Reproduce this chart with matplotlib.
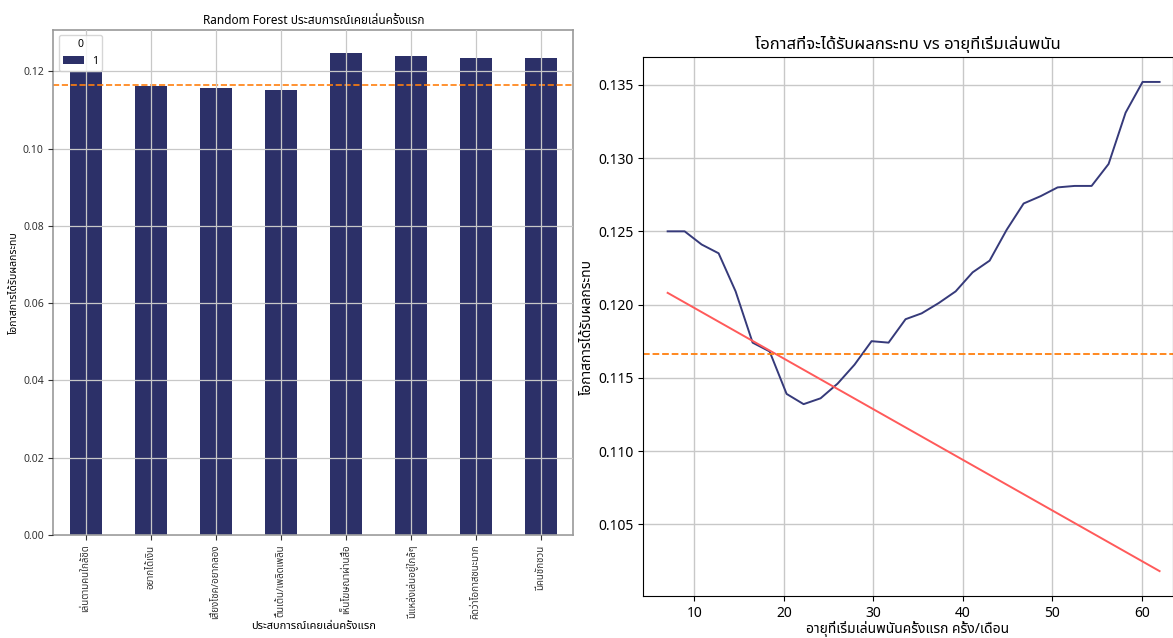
import matplotlib
matplotlib.use("Agg")
import matplotlib.pyplot as plt
import pandas as pd

plt.rcParams['font.family'] = ['Noto Sans Thai', 'Open Sans', 'DejaVu Sans']

# left: Random Forest, first-time experience
reasons = ["เล่นตามคนใกล้ชิด", "อยากได้เงิน", "เสี่ยงโชค/อยากลอง", "ตื่นเต้น/เพลิดเพลิน",
           "เห็นโฆษณาผ่านสื่อ", "มีแหล่งเล่นอยู่ใกล้ๆ", "คิดว่าโอกาสชนะมาก", "มีคนชักชวน"]
reason_prob = [0.1200, 0.1161, 0.1157, 0.1153, 0.1248, 0.1240, 0.1234, 0.1234]
baseline = 0.1166

# right: probability vs starting age
age = [7.0, 8.9, 10.8, 12.7, 14.6, 16.5, 18.4, 20.3, 22.2, 24.1,
       26.0, 27.9, 29.8, 31.7, 33.6, 35.4, 37.3, 39.2, 41.1, 43.0,
       44.9, 46.8, 48.7, 50.6, 52.5, 54.4, 56.3, 58.2, 60.1, 62.0]
age_prob = [0.1250, 0.1250, 0.1241, 0.1235, 0.1209, 0.1174, 0.1168, 0.1139, 0.1132, 0.1136,
            0.1146, 0.1159, 0.1175, 0.1174, 0.1190, 0.1194, 0.1201, 0.1209, 0.1222, 0.1230,
            0.1251, 0.1269, 0.1274, 0.1280, 0.1281, 0.1281, 0.1296, 0.1331, 0.1352, 0.1352]
trend_x = [7.0, 62.0]
trend_y = [0.1208, 0.1018]

fig = plt.figure(figsize=(11.73, 6.38), dpi=100)

ax1 = fig.add_axes([0.0456, 0.1614, 0.4433, 0.7915])
df = pd.DataFrame({1: reason_prob}, index=reasons)
df.plot(kind='bar', ax=ax1, color='#2c3068', width=0.5)
ax1.axhline(baseline, color='#ff7f0e', linestyle='--', linewidth=1.2)
ax1.grid(True, color='#c8c8c8', linewidth=0.9)
ax1.set_axisbelow(False)
ax1.set_ylim(0, 0.1307)
ax1.set_yticks([0.00, 0.02, 0.04, 0.06, 0.08, 0.10, 0.12])
ax1.tick_params(axis='y', labelsize=7.5, colors='#333333')
ax1.tick_params(axis='x', labelsize=7, colors='#333333', labelrotation=90)
for s in ax1.spines.values():
    s.set_color('#999999')
    s.set_linewidth(1.2)
ax1.set_title("Random Forest ประสบการณ์เคยเล่นครั้งแรก", fontsize=8.5, pad=4)
ax1.set_xlabel("ประสบการณ์เคยเล่นครั้งแรก", fontsize=8, labelpad=1)
ax1.set_ylabel("โอกาสการได้รับผลกระทบ", fontsize=7.5, labelpad=2)
ax1.legend(title="0", loc='upper left', fontsize=7.5, title_fontsize=7.5)

ax2 = fig.add_axes([0.5482, 0.0658, 0.4518, 0.8448])
ax2.plot(age, age_prob, color='#363a7a', linewidth=1.4)
ax2.plot(trend_x, trend_y, color='#ff5a5a', linewidth=1.4)
ax2.axhline(baseline, color='#ff7f0e', linestyle='--', linewidth=1.3)
ax2.grid(True, color='#c8c8c8', linewidth=1)
ax2.set_xlim(4.25, 63.5)
ax2.set_ylim(0.1001, 0.1369)
ax2.set_yticks([0.105, 0.110, 0.115, 0.120, 0.125, 0.130, 0.135])
ax2.tick_params(labelsize=10)
ax2.set_title("โอกาสที่จะได้รับผลกระทบ vs อายุที่เริ่มเล่นพนัน", fontsize=12, pad=6)
ax2.set_xlabel("อายุที่เริ่มเล่นพนันครั้งแรก ครั้ง/เดือน", fontsize=10, labelpad=0)
ax2.set_ylabel("โอกาสการได้รับผลกระทบ", fontsize=10, labelpad=2)

fig.savefig("out.png")
